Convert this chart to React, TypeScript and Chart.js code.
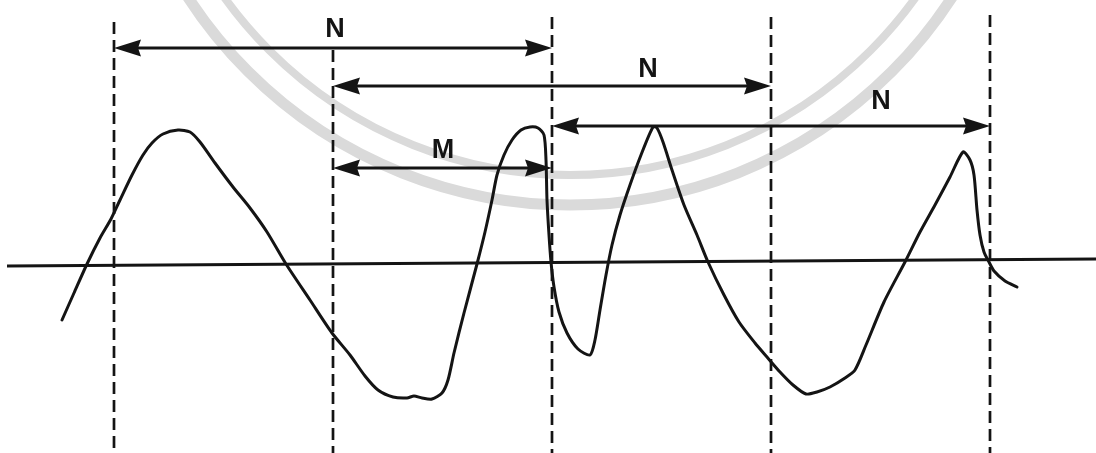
import React, { useEffect, useRef } from "react";
import { Chart, registerables } from "chart.js";

Chart.register(...registerables);

// Signal trace: time (x) and amplitude (y)
const waveT = [
  6.2, 7.4, 8.7, 10.0, 11.1, 12.0, 13.2, 14.3, 15.2, 16.3, 17.8, 19.0, 20.0, 21.5, 23.3, 25.0, 26.7, 28.6,
  31.0, 33.2, 35.0, 36.5, 37.8, 39.3, 40.7, 41.4, 42.2, 43.2, 44.2, 44.8, 45.4, 46.4, 47.7, 48.5, 49.2,
  49.7, 50.4, 51.2, 52.1, 53.0, 53.8, 54.4, 54.6, 54.7, 54.9, 55.1, 55.4, 55.9, 56.7, 57.8, 59.0, 59.5,
  60.0, 60.6, 61.2, 62.0, 63.0, 64.1, 65.3, 65.7, 66.3, 67.2, 68.4, 69.7, 70.8, 72.4, 73.9, 75.5, 76.7,
  78.0, 79.3, 80.6, 81.7, 83.0, 84.5, 85.5, 86.6, 88.4, 90.5, 92.0, 93.5, 95.0, 96.3, 97.0, 97.4, 97.7,
  98.0, 98.4, 98.9, 99.4, 100.5, 101.7,
];
const waveAmp = [
  -0.55, -0.28, 0.01, 0.27, 0.46, 0.65, 0.9, 1.1, 1.22, 1.31, 1.35, 1.33, 1.23, 1.02, 0.78, 0.57, 0.33, 0.01,
  -0.35, -0.68, -0.9, -1.11, -1.25, -1.32, -1.33, -1.31, -1.33, -1.34, -1.28, -1.15, -0.88, -0.48, 0.01, 0.33, 0.65,
  0.9, 1.1, 1.25, 1.35, 1.38, 1.37, 1.3, 1.05, 0.65, 0.3, 0.03, -0.22, -0.47, -0.68, -0.84, -0.9, -0.75,
  -0.45, -0.1, 0.2, 0.5, 0.8, 1.1, 1.38, 1.37, 1.23, 0.95, 0.6, 0.3, 0.03, -0.3, -0.57, -0.78, -0.92,
  -1.07, -1.2, -1.29, -1.27, -1.22, -1.13, -1.05, -0.8, -0.37, 0.03, 0.33, 0.6, 0.88, 1.13, 1.05, 0.9, 0.55,
  0.3, 0.13, 0.03, -0.06, -0.16, -0.22,
];

// Zero (reference) line
const baselineT = [0.7, 109.6];
const baselineAmp = [-0.01, 0.06];

// Dashed vertical markers
const markerT = [11.4, 33.3, 55.2, 77.1, 99.0];
const markerTop = [2.43, 2.15, 2.48, 2.48, 2.5];
const markerBottom = -1.9;

// Interval arrows and labels
const arrowStart = [11.4, 33.3, 33.3, 55.2];
const arrowEnd = [55.2, 77.1, 55.2, 99.0];
const arrowLevel = [2.17, 1.79, 0.97, 1.39];
const arrowLabels = ["N", "N", "M", "N"];
const labelT = [33.5, 64.8, 44.3, 88.1];
const labelAmp = [2.28, 1.88, 1.07, 1.56];

// Axis ranges
const tMin = 0;
const tMax = 109.6;
const ampMin = -1.88;
const ampMax = 2.65;

// Watermark rings (seal centre and radii, in time units)
const sealCenterT = 57.0;
const sealCenterAmp = 5.15;
const sealRadii = [45.5, 42.5];

const INK = "#141414";

const overlayPlugin = {
  id: "overlay",
  beforeDatasetsDraw(chart: any) {
    const { ctx, scales } = chart;
    const xs = scales.x;
    const ys = scales.y;
    const cx = xs.getPixelForValue(sealCenterT);
    const cy = ys.getPixelForValue(sealCenterAmp);
    ctx.save();
    ctx.strokeStyle = "#dadada";
    sealRadii.forEach((r, i) => {
      const rp = xs.getPixelForValue(sealCenterT + r) - cx;
      ctx.lineWidth = i === 0 ? 11 : 8;
      ctx.beginPath();
      ctx.arc(cx, cy, rp, 0, Math.PI * 2);
      ctx.stroke();
    });
    ctx.restore();
  },
  afterDatasetsDraw(chart: any) {
    const { ctx, scales } = chart;
    const xs = scales.x;
    const ys = scales.y;
    ctx.save();
    ctx.fillStyle = INK;
    const L = 27;
    const h = 8.5;
    arrowStart.forEach((s, i) => {
      const y = ys.getPixelForValue(arrowLevel[i]);
      const x0 = xs.getPixelForValue(s);
      const x1 = xs.getPixelForValue(arrowEnd[i]);
      ctx.beginPath();
      ctx.moveTo(x0, y);
      ctx.lineTo(x0 + L, y - h);
      ctx.lineTo(x0 + L - 3, y);
      ctx.lineTo(x0 + L, y + h);
      ctx.closePath();
      ctx.fill();
      ctx.beginPath();
      ctx.moveTo(x1, y);
      ctx.lineTo(x1 - L, y - h);
      ctx.lineTo(x1 - L + 3, y);
      ctx.lineTo(x1 - L, y + h);
      ctx.closePath();
      ctx.fill();
    });
    ctx.font = 'bold 27px "Liberation Sans", Arial, sans-serif';
    ctx.textAlign = "center";
    ctx.textBaseline = "alphabetic";
    arrowLabels.forEach((t, i) => {
      ctx.fillText(t, xs.getPixelForValue(labelT[i]), ys.getPixelForValue(labelAmp[i]));
    });
    ctx.restore();
  },
};

export default function App() {
  const ref = useRef<HTMLCanvasElement | null>(null);

  useEffect(() => {
    document.body.style.margin = "0";
    const canvas = ref.current;
    if (!canvas) return;

    const lineBase = {
      pointRadius: 0,
      pointHoverRadius: 0,
      fill: false,
      clip: false as any,
    };

    const datasets: any[] = [];

    datasets.push({
      ...lineBase,
      label: "baseline",
      data: baselineT.map((t, i) => ({ x: t, y: baselineAmp[i] })),
      borderColor: INK,
      borderWidth: 3,
      tension: 0,
    });

    markerT.forEach((t, i) => {
      datasets.push({
        ...lineBase,
        label: "marker" + i,
        data: [
          { x: t, y: markerTop[i] },
          { x: t, y: markerBottom },
        ],
        borderColor: INK,
        borderWidth: 2.7,
        borderDash: [12, 6],
        tension: 0,
      });
    });

    arrowStart.forEach((s, i) => {
      datasets.push({
        ...lineBase,
        label: "arrow" + i,
        data: [
          { x: s + 1.0, y: arrowLevel[i] },
          { x: arrowEnd[i] - 1.0, y: arrowLevel[i] },
        ],
        borderColor: INK,
        borderWidth: 2.8,
        tension: 0,
      });
    });

    datasets.push({
      ...lineBase,
      label: "wave",
      data: waveT.map((t, i) => ({ x: t, y: waveAmp[i] })),
      borderColor: INK,
      borderWidth: 3,
      tension: 0.25,
      borderCapStyle: "round",
      borderJoinStyle: "round",
    });

    const chart = new Chart(canvas, {
      type: "line",
      data: { datasets },
      options: {
        animation: false,
        responsive: false,
        maintainAspectRatio: false,
        layout: { padding: 0 },
        events: [],
        plugins: {
          legend: { display: false },
          tooltip: { enabled: false },
          title: { display: false },
        },
        scales: {
          x: { type: "linear", min: tMin, max: tMax, display: false },
          y: { type: "linear", min: ampMin, max: ampMax, display: false },
        },
      },
      plugins: [overlayPlugin],
    });

    return () => chart.destroy();
  }, []);

  return (
    <div style={{ position: "fixed", left: 0, top: 0, width: 1096, height: 453, background: "#fff" }}>
      <canvas ref={ref} width={1096} height={453} style={{ display: "block" }} />
    </div>
  );
}
